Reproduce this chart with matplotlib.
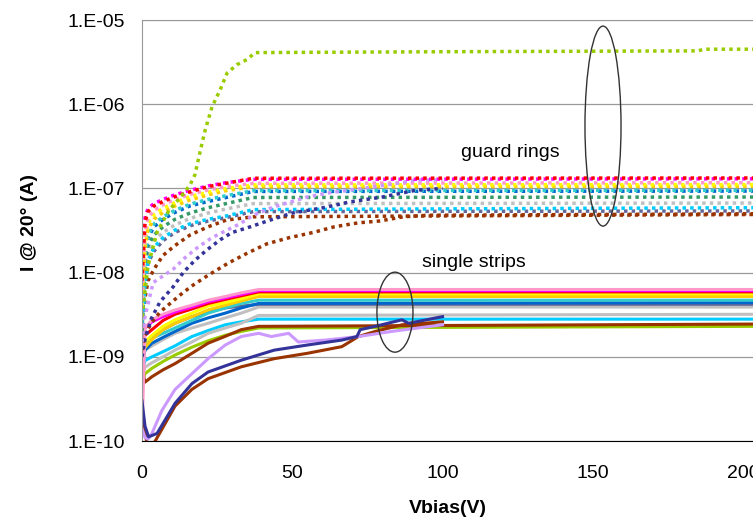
import numpy as np
import matplotlib
matplotlib.use("Agg")
import matplotlib.pyplot as plt
from matplotlib.patches import Ellipse
from matplotlib.ticker import FixedLocator, FuncFormatter, NullLocator

plt.rcParams['font.family'] = ['Liberation Sans', 'DejaVu Sans']

# ---- guard rings (dotted) ----
GR_V = [0, 1, 2, 4, 7, 11, 16, 22, 28, 37, 205]
gr_red = [8e-9, 4e-8, 5.3e-8, 6.2e-8, 7e-8, 8e-8, 9.1e-8, 1.05e-7, 1.15e-7, 1.32e-7, 1.33e-7]
gr_magenta = [1.5e-8, 4.5e-8, 5.8e-8, 6.6e-8, 7.4e-8, 8.4e-8, 9.5e-8, 1.07e-7, 1.17e-7, 1.28e-7, 1.3e-7]
gr_pink = [5e-9, 3e-8, 4.5e-8, 5.5e-8, 6.4e-8, 7.4e-8, 8.5e-8, 9.6e-8, 1.05e-7, 1.15e-7, 1.17e-7]
gr_yellow = [4e-9, 2.5e-8, 3.9e-8, 4.9e-8, 5.8e-8, 6.8e-8, 8e-8, 9e-8, 1e-7, 1.1e-7, 1.11e-7]
gr_gold = [3e-9, 2e-8, 3.3e-8, 4.3e-8, 5.2e-8, 6.2e-8, 7.3e-8, 8.4e-8, 9.4e-8, 1.05e-7, 1.06e-7]
gr_blue = [2.5e-9, 1.5e-8, 2.6e-8, 3.5e-8, 4.3e-8, 5.2e-8, 6.2e-8, 7e-8, 7.8e-8, 9.2e-8, 9.3e-8]
gr_teal = [2.5e-9, 1.6e-8, 2.8e-8, 3.8e-8, 4.6e-8, 5.5e-8, 6.5e-8, 7.4e-8, 8.2e-8, 9.4e-8, 9.5e-8]
gr_green = [2e-9, 1.2e-8, 2.1e-8, 2.8e-8, 3.5e-8, 4.3e-8, 5.1e-8, 5.9e-8, 6.6e-8, 7.8e-8, 7.9e-8]
gr_silver = [2e-9, 1e-8, 1.8e-8, 2.4e-8, 3e-8, 3.7e-8, 4.4e-8, 5.1e-8, 5.7e-8, 6.6e-8, 6.7e-8]
gr_cyan = [1.5e-9, 8e-9, 1.4e-8, 2e-8, 2.6e-8, 3.2e-8, 3.8e-8, 4.3e-8, 4.7e-8, 5.6e-8, 5.9e-8]
gr_slate = [1.5e-9, 7e-9, 1.3e-8, 1.8e-8, 2.4e-8, 3e-8, 3.6e-8, 4.1e-8, 4.5e-8, 5.3e-8, 5.4e-8]
gr_brown = [1.5e-9, 5e-9, 8e-9, 1.1e-8, 1.6e-8, 2.1e-8, 2.8e-8, 3.5e-8, 4.2e-8, 4.6e-8, 4.9e-8]

gr_lime_v = [0, 2, 5, 9, 13, 16, 17.6, 19.3, 21, 23.3, 26, 28.3, 31.6, 35, 37.6, 100, 185, 187, 205]
gr_lime = [3e-9, 1.2e-8, 3e-8, 5.5e-8, 8e-8, 1.1e-7, 1.45e-7, 2.7e-7, 4.9e-7, 9.3e-7, 1.48e-6,
           2.34e-6, 2.95e-6, 3.4e-6, 4.1e-6, 4.2e-6, 4.3e-6, 4.5e-6, 4.5e-6]

gr_navy_v = [0, 1, 3, 6, 10.4, 13.7, 17.6, 21.6, 26, 30, 35, 42.6, 50, 61.5, 69, 80, 91, 100]
gr_navy = [1e-9, 1.6e-9, 2.8e-9, 4.5e-9, 6.8e-9, 1e-8, 1.4e-8, 1.86e-8, 2.45e-8, 3e-8, 3.4e-8,
           4.2e-8, 5.1e-8, 6e-8, 6.9e-8, 7.9e-8, 9.5e-8, 1e-7]

gr_lilac_v = [0, 1, 3.7, 10.4, 14.3, 18.6, 23.3, 28.3, 32.6, 37, 43.6, 55, 62.5, 73.5, 81.5, 91.5, 100]
gr_lilac = [1.5e-9, 3e-9, 7.6e-9, 1.1e-8, 1.5e-8, 2e-8, 2.6e-8, 3.2e-8, 3.8e-8, 4.8e-8, 6e-8,
            7.9e-8, 8.9e-8, 1e-7, 1.1e-7, 1.26e-7, 1.26e-7]

gr_brown2_v = [0, 1, 3, 6, 10, 13.7, 17, 22, 28.6, 35, 41.6, 49, 57, 64, 72, 79, 87, 95, 205]
gr_brown2 = [1.2e-9, 1.8e-9, 2.5e-9, 3.4e-9, 4.5e-9, 5.8e-9, 7.1e-9, 9.3e-9, 1.29e-8, 1.7e-8,
             2.2e-8, 2.6e-8, 3e-8, 3.5e-8, 3.9e-8, 4.1e-8, 4.6e-8, 4.8e-8, 5e-8]

# ---- single strips (solid) ----
SS_V = [0, 1, 3.3, 7, 11, 16.6, 22, 27.7, 33, 38.8, 205]
ss_pink = [1.2e-10, 2.2e-9, 2.75e-9, 3.2e-9, 3.6e-9, 4.1e-9, 4.7e-9, 5.2e-9, 5.75e-9, 6.3e-9, 6.3e-9]
ss_magenta = [2e-9, 2.2e-9, 2.6e-9, 3e-9, 3.4e-9, 3.9e-9, 4.5e-9, 5e-9, 5.5e-9, 6.1e-9, 6.1e-9]
ss_red = [1.5e-9, 1.8e-9, 2.1e-9, 2.7e-9, 3.2e-9, 3.7e-9, 4.3e-9, 4.8e-9, 5.3e-9, 5.9e-9, 5.9e-9]
ss_yellow = [1.2e-9, 1.5e-9, 1.8e-9, 2.3e-9, 2.75e-9, 3.3e-9, 4e-9, 4.4e-9, 4.9e-9, 5.6e-9, 5.6e-9]
ss_gold = [1e-9, 1.3e-9, 1.6e-9, 2.1e-9, 2.5e-9, 3e-9, 3.6e-9, 4.1e-9, 4.6e-9, 5.2e-9, 5.2e-9]
ss_teal = [9e-10, 1.3e-9, 1.66e-9, 1.9e-9, 2.2e-9, 2.7e-9, 3.3e-9, 3.8e-9, 4.3e-9, 4.7e-9, 4.7e-9]
ss_slate = [1e-9, 1.4e-9, 1.75e-9, 2.1e-9, 2.5e-9, 3e-9, 3.4e-9, 3.8e-9, 4e-9, 4.2e-9, 4.2e-9]
ss_blue = [8e-10, 1.2e-9, 1.45e-9, 1.7e-9, 2e-9, 2.5e-9, 2.9e-9, 3.3e-9, 3.8e-9, 4.3e-9, 4.4e-9]
ss_silver = [9e-10, 1.2e-9, 1.35e-9, 1.6e-9, 1.9e-9, 2.2e-9, 2.5e-9, 2.9e-9, 3.3e-9, 3.9e-9, 3.9e-9]
ss_silver2 = [6e-10, 7.5e-10, 8.5e-10, 1e-9, 1.2e-9, 1.5e-9, 1.9e-9, 2.2e-9, 2.5e-9, 3.1e-9, 3.2e-9]
ss_cyan = [7e-10, 9e-10, 1e-9, 1.15e-9, 1.35e-9, 1.74e-9, 2.05e-9, 2.4e-9, 2.6e-9, 2.8e-9, 2.8e-9]
ss_lime = [5e-10, 6.3e-10, 7.3e-10, 8.8e-10, 1.05e-9, 1.3e-9, 1.55e-9, 1.8e-9, 2e-9, 2.2e-9, 2.3e-9]
ss_brown = [7e-10, 5e-10, 5.8e-10, 7e-10, 8.3e-10, 1.1e-9, 1.45e-9, 1.75e-9, 2.1e-9, 2.3e-9, 2.45e-9]

ss_lilac_v = [0, 1, 2, 3.3, 6.6, 11, 16.6, 22, 27.7, 33, 38.8, 43, 48.8, 52, 61, 72, 83, 100]
ss_lilac = [1.4e-10, 1.1e-10, 1.05e-10, 1.23e-10, 2.3e-10, 4.1e-10, 6.3e-10, 9.5e-10, 1.38e-9,
            1.74e-9, 1.9e-9, 1.74e-9, 1.9e-9, 1.5e-9, 1.58e-9, 1.74e-9, 2e-9, 2.4e-9]
ss_navy_v = [0, 1, 2.2, 5, 11, 16.6, 22, 33, 44, 55, 66.5, 71.5, 72.6, 77.6, 86.5, 88.7, 100]
ss_navy = [3e-10, 1.5e-10, 1.12e-10, 1.23e-10, 2.8e-10, 4.8e-10, 6.6e-10, 9.1e-10, 1.2e-9,
           1.38e-9, 1.58e-9, 1.74e-9, 2.1e-9, 2.3e-9, 2.75e-9, 2.5e-9, 3e-9]
ss_brown2_v = [0, 2, 4.4, 11, 16.6, 22, 33, 44, 55, 66.5, 72, 77.6, 86.5, 100]
ss_brown2 = [2e-10, 8e-11, 1e-10, 2.6e-10, 4.1e-10, 5.5e-10, 7.6e-10, 9.5e-10, 1.1e-9, 1.32e-9,
             1.74e-9, 2e-9, 2.4e-9, 2.6e-9]

solid_series = [
    (SS_V, ss_lime, '#99CC00'), (SS_V, ss_brown, '#993300'), (SS_V, ss_cyan, '#00CCFF'),
    (SS_V, ss_silver2, '#C0C0C0'), (SS_V, ss_silver, '#C0C0C0'), (SS_V, ss_slate, '#666699'),
    (SS_V, ss_blue, '#0066CC'), (SS_V, ss_teal, '#33CCCC'), (SS_V, ss_gold, '#FFCC00'),
    (SS_V, ss_yellow, '#FFFF00'), (SS_V, ss_red, '#FF0000'), (SS_V, ss_magenta, '#FF00FF'),
    (SS_V, ss_pink, '#FF99CC'),
    (ss_brown2_v, ss_brown2, '#993300'), (ss_lilac_v, ss_lilac, '#CC99FF'),
    (ss_navy_v, ss_navy, '#333399'),
]
dotted_series = [
    (gr_brown2_v, gr_brown2, '#993300'), (GR_V, gr_brown, '#993300'),
    (GR_V, gr_slate, '#666699'), (GR_V, gr_cyan, '#00CCFF'), (GR_V, gr_silver, '#C0C0C0'),
    (GR_V, gr_green, '#339966'), (GR_V, gr_blue, '#0066CC'), (GR_V, gr_teal, '#33CCCC'),
    (GR_V, gr_gold, '#FFCC00'), (GR_V, gr_yellow, '#FFFF00'), (GR_V, gr_pink, '#FF99CC'),
    (gr_navy_v, gr_navy, '#333399'), (gr_lilac_v, gr_lilac, '#CC99FF'),
    (GR_V, gr_magenta, '#FF00FF'), (GR_V, gr_red, '#FF0000'),
    (gr_lime_v, gr_lime, '#99CC00'),
]

fig = plt.figure(figsize=(7.53, 5.24), dpi=100)
ax = fig.add_axes([142 / 753, 83 / 524, 611 / 753, 421 / 524])

for v, i, c in solid_series:
    ax.plot(v, i, color=c, lw=2.2, solid_joinstyle='round')
for v, i, c in dotted_series:
    ax.plot(v, i, color=c, lw=2.5, linestyle=(0, (1, 1.2)), dash_capstyle='butt')

ax.set_yscale('log')
ax.set_xlim(0, 203.3)
ax.set_ylim(1e-10, 1e-5)

yt = [1e-10, 1e-9, 1e-8, 1e-7, 1e-6, 1e-5]
ax.yaxis.set_major_locator(FixedLocator(yt))
ax.yaxis.set_minor_locator(NullLocator())
ax.yaxis.set_major_formatter(FuncFormatter(lambda v, p: f"1.E{int(round(np.log10(v))):03d}"))
ax.set_xticks([0, 50, 100, 150, 200])
ax.tick_params(length=0, labelsize=14)
ax.tick_params(axis='y', pad=12)
ax.tick_params(axis='x', pad=17)

ax.grid(axis='y', color='#999999', lw=0.9)
ax.set_axisbelow(True)
ax.spines['right'].set_visible(False)
ax.spines['top'].set_color('#999999')
ax.spines['left'].set_color('#999999')
ax.spines['bottom'].set_color('black')

ax.set_xlabel('Vbias(V)', fontsize=14, fontweight='bold')
ax.xaxis.set_label_coords(0.5, -0.14)
ax.set_ylabel('I @ 20° (A)', fontsize=14, fontweight='bold')
ax.yaxis.set_label_coords(-0.17, 0.52)

ax.text(0.602, 0.686, 'guard rings', transform=ax.transAxes, fontsize=14,
        ha='center', va='center')
ax.text(0.5426, 0.425, 'single strips', transform=ax.transAxes, fontsize=14,
        ha='center', va='center')

ax.add_patch(Ellipse((0.7545, 0.748), 0.059, 0.475, transform=ax.transAxes,
                     fill=False, edgecolor='#333333', lw=1.0, zorder=5))
ax.add_patch(Ellipse((0.414, 0.306), 0.059, 0.19, transform=ax.transAxes,
                     fill=False, edgecolor='#333333', lw=1.0, zorder=5))

fig.savefig('out.png', dpi=100)
